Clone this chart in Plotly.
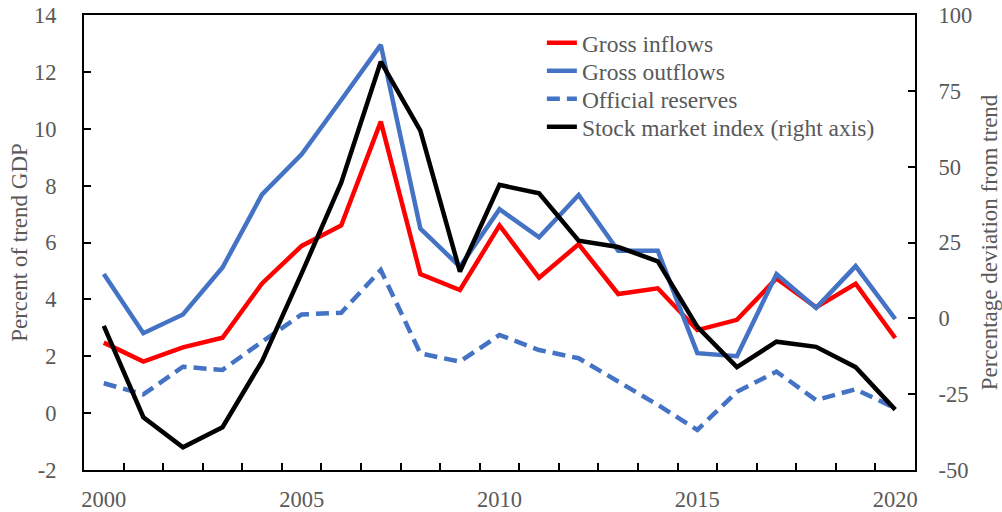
import plotly.graph_objects as go

years = list(range(2000, 2021))
gross_inflows = [2.48, 1.81, 2.31, 2.65, 4.56, 5.88, 6.60, 10.25, 4.89, 4.33, 6.60,
                 4.76, 5.94, 4.19, 4.39, 2.92, 3.28, 4.74, 3.72, 4.55, 2.64]
gross_outflows = [4.89, 2.81, 3.47, 5.12, 7.69, 9.10, 11.01, 12.95, 6.49, 5.15, 7.17,
                  6.18, 7.67, 5.71, 5.71, 2.11, 2.00, 4.89, 3.70, 5.17, 3.31]
official_reserves = [1.05, 0.66, 1.63, 1.52, 2.51, 3.47, 3.53, 5.03, 2.10, 1.81, 2.75,
                     2.22, 1.93, 1.10, 0.29, -0.59, 0.75, 1.46, 0.46, 0.84, 0.17]
stock_index = [-2.5, -32.6, -42.5, -35.9, -14.1, 14.8, 44.7, 84.6, 61.9, 15.4, 44.0,
               41.2, 25.6, 23.5, 18.8, -2.8, -16.1, -7.7, -9.4, -16.1, -30.1]

label_years = [2000, 2005, 2010, 2015, 2020]
boundaries = [y + 0.5 for y in range(2000, 2020)]
left_ticks = list(range(-2, 15, 2))
left_text = [str(v) for v in left_ticks]
right_ticks = list(range(-50, 101, 25))
right_text = [str(v) for v in right_ticks]

FONT = "Liberation Serif"
GREY = "#595959"
LW = 4.5
PLOT_TOP, PLOT_BOTTOM = 15, 470
legend_rows = [43, 71, 99, 127]   # pixel row centres of legend entries


def row_y(px):
    return (PLOT_BOTTOM - px) / (PLOT_BOTTOM - PLOT_TOP)


fig = go.Figure()
fig.add_trace(go.Scatter(x=years, y=gross_inflows, name="Gross inflows", mode="lines",
                         legend="legend",
                         line=dict(color="#FF0000", width=LW)))
fig.add_trace(go.Scatter(x=years, y=gross_outflows, name="Gross outflows", mode="lines",
                         legend="legend2",
                         line=dict(color="#4472C4", width=LW)))
fig.add_trace(go.Scatter(x=years, y=official_reserves, name="Official reserves", mode="lines",
                         legend="legend3",
                         line=dict(color="#4472C4", width=LW, dash="13px,7px")))
fig.add_trace(go.Scatter(x=years, y=stock_index, name="Stock market index (right axis)",
                         mode="lines", yaxis="y2", legend="legend4",
                         line=dict(color="#000000", width=LW)))

leg_common = dict(x=0.551, xanchor="left", yanchor="middle", itemwidth=30,
                  bgcolor="rgba(0,0,0,0)", font=dict(family=FONT, size=23.5, color=GREY))

fig.update_layout(
    width=1002, height=512,
    margin=dict(l=84, r=87, t=15, b=42),
    paper_bgcolor="white", plot_bgcolor="white",
    font=dict(family=FONT, size=22.5, color=GREY),
    showlegend=True,
    legend=dict(y=row_y(legend_rows[0]), **leg_common),
    legend2=dict(y=row_y(legend_rows[1]), **leg_common),
    legend3=dict(y=row_y(legend_rows[2]), **leg_common),
    legend4=dict(y=row_y(legend_rows[3]), **leg_common),
    xaxis=dict(range=[1999.5, 2020.5], tickmode="array", tickvals=label_years,
               ticks="", showgrid=False, zeroline=False, automargin=False,
               showline=True, linecolor="black", linewidth=2, mirror=True,
               ticklabelstandoff=8,
               minor=dict(tickmode="array", tickvals=boundaries, ticks="inside",
                          ticklen=7, tickwidth=2, tickcolor="black", showgrid=False)),
    yaxis=dict(range=[-2, 14], tickmode="array", tickvals=left_ticks, ticktext=left_text,
               ticks="inside", ticklen=7, tickwidth=2, tickcolor="black",
               showgrid=False, zeroline=False, showline=True, linecolor="black",
               linewidth=2, ticklabelstandoff=21, automargin=False,
               title=dict(text="Percent of trend GDP", font=dict(size=23, color=GREY),
                          standoff=0)),
    yaxis2=dict(range=[-50, 100], tickmode="array", tickvals=right_ticks, ticktext=right_text,
                overlaying="y", side="right", automargin=False,
                ticks="inside", ticklen=7, tickwidth=2, tickcolor="black",
                showgrid=False, zeroline=False, showline=True, linecolor="black",
                linewidth=2, ticklabelstandoff=17,
                title=dict(text="Percentage deviation from trend",
                           font=dict(size=23, color=GREY), standoff=11)),
)

fig.write_html("out.html", config={"displayModeBar": False},
               post_script="document.body.style.margin='0';")
